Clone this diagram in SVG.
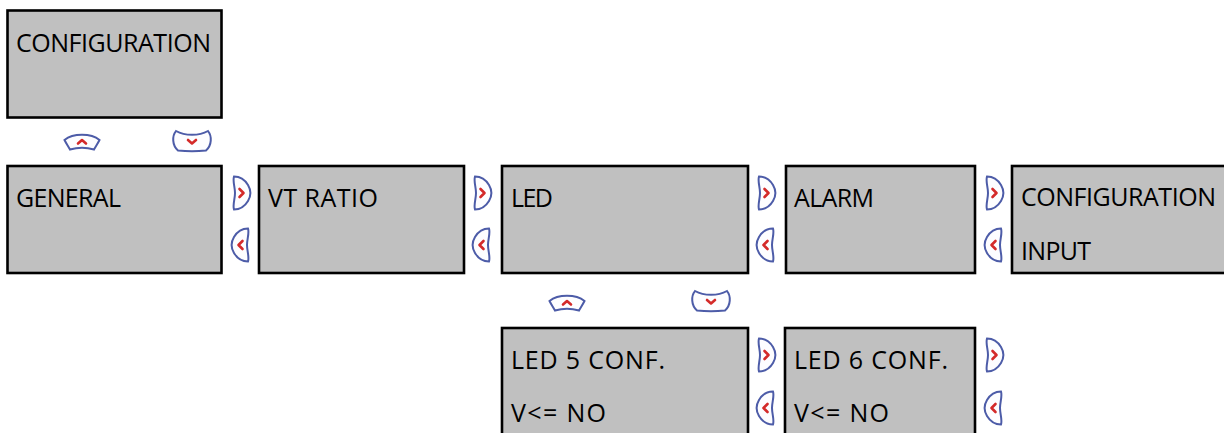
<svg xmlns="http://www.w3.org/2000/svg" xmlns:xlink="http://www.w3.org/1999/xlink" width="1224" height="433" viewBox="0 0 1224 433">
<style>
.box{fill:#c0c0c0;stroke:#000;stroke-width:2.6}
.t{font-family:"Open Sans","DejaVu Sans",sans-serif;font-size:25px;fill:#000}
.bo{fill:#fdfdff;stroke:#4d5ca8;stroke-width:2}
.ch{fill:none;stroke:#d42a2a;stroke-width:2.6;stroke-linecap:round;stroke-linejoin:round}
</style>
<defs>
<g id="bR">
<path class="bo" d="M4,1.5 C10,1.5 15,5 18,10 C21,15 21,21 18,26 C15,31 10,34.5 4,34.5 C2.5,30 5,24 5,18 C5,12 2.5,6 4,1.5 Z"/>
<path class="ch" d="M9.5,14 L13.5,18 L9.5,22"/>
</g>
<g id="bL">
<path class="bo" d="M18,1.5 C12,1.5 7,5 4,10 C1,15 1,21 4,26 C7,31 12,34.5 18,34.5 C19.5,30 17,24 17,18 C17,12 19.5,6 18,1.5 Z"/>
<path class="ch" d="M12.5,14 L8.5,18 L12.5,22"/>
</g>
<g id="bU">
<path class="bo" d="M1.5,9 C10,2 28,2 36.5,9 C35,12 33,15 31,18.5 C24,16.5 14,16.5 7,18.5 C5,15 3,12 1.5,9 Z"/>
<path class="ch" d="M15,12.5 L19,9 L23,12.5"/>
</g>
<g id="bD">
<path class="bo" d="M4,2 C13,7 27,7 36,2 C40,7 40,16 34,21.5 C25,22.5 15,22.5 6,21.5 C0,16 0,7 4,2 Z"/>
<path class="ch" d="M16,11 L20,14.5 L24,11"/>
</g>
</defs>

<g id="configuration">
<rect class="box" x="7.5" y="10.5" width="214" height="107"/>
<text class="t" x="16" y="52" textLength="195" lengthAdjust="spacing">CONFIGURATION</text>
</g>
<g id="general">
<rect class="box" x="7.5" y="166" width="214" height="107"/>
<text class="t" x="16" y="207" textLength="105" lengthAdjust="spacing">GENERAL</text>
</g>
<g id="vt-ratio">
<rect class="box" x="259" y="166" width="205" height="107"/>
<text class="t" x="268" y="207" textLength="110" lengthAdjust="spacing">VT RATIO</text>
</g>
<g id="led">
<rect class="box" x="502" y="166" width="246" height="107"/>
<text class="t" x="511" y="207" textLength="42" lengthAdjust="spacing">LED</text>
</g>
<g id="alarm">
<rect class="box" x="786" y="166" width="189" height="107"/>
<text class="t" x="794" y="207" textLength="80" lengthAdjust="spacing">ALARM</text>
</g>
<g id="configuration-input">
<rect class="box" x="1012" y="166" width="230" height="107"/>
<text class="t" x="1021" y="206" textLength="195" lengthAdjust="spacing">CONFIGURATION</text>
<text class="t" x="1021" y="260" textLength="70" lengthAdjust="spacing">INPUT</text>
</g>
<g id="led5-conf">
<rect class="box" x="502" y="328" width="246" height="120"/>
<text class="t" x="511" y="369" textLength="154" lengthAdjust="spacing">LED 5 CONF.</text>
<text class="t" x="511" y="422" textLength="95" lengthAdjust="spacing">V&lt;= NO</text>
</g>
<g id="led6-conf">
<rect class="box" x="785" y="328" width="190" height="120"/>
<text class="t" x="794" y="369" textLength="154" lengthAdjust="spacing">LED 6 CONF.</text>
<text class="t" x="794" y="422" textLength="95" lengthAdjust="spacing">V&lt;= NO</text>
</g>

<g id="connectors">
<use xlink:href="#bU" x="63" y="131"/>
<use xlink:href="#bD" x="172" y="129"/>
<use xlink:href="#bR" x="230" y="175"/>
<use xlink:href="#bL" x="230" y="227"/>
<use xlink:href="#bR" x="471" y="175"/>
<use xlink:href="#bL" x="471" y="227"/>
<use xlink:href="#bR" x="755" y="175"/>
<use xlink:href="#bL" x="755" y="227"/>
<use xlink:href="#bR" x="983" y="175"/>
<use xlink:href="#bL" x="983" y="227"/>
<use xlink:href="#bU" x="548" y="292"/>
<use xlink:href="#bD" x="691" y="289"/>
<use xlink:href="#bR" x="755" y="337"/>
<use xlink:href="#bL" x="755" y="390"/>
<use xlink:href="#bR" x="983" y="337"/>
<use xlink:href="#bL" x="983" y="390"/>
</g>
</svg>
